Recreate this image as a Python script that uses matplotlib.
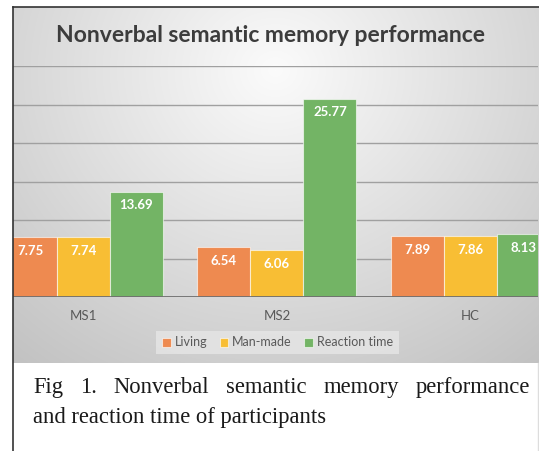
import numpy as np
import matplotlib
matplotlib.use("Agg")
import matplotlib.pyplot as plt
from matplotlib.lines import Line2D

groups = ["MS1", "MS2", "HC"]
series_names = ["Living", "Man-made", "Reaction time"]
living = [7.75, 6.54, 7.89]
man_made = [7.74, 6.06, 7.86]
reaction = [13.69, 25.77, 8.13]
colors = ["#EE8A50", "#F8BE34", "#73B465"]

title = "Nonverbal semantic memory performance"
caption1 = "Fig 1. Nonverbal semantic memory performance"
caption2 = "and reaction time of participants"

W, H = 539, 451
fig = plt.figure(figsize=(W / 100, H / 100), dpi=100)
fig.patch.set_facecolor("white")

def fx(px):
    return px / W

def fy(py):
    return 1 - py / H

# gray gradient background of the chart block
bg_left, bg_right, bg_top, bg_bot = 13, 539, 7, 363
bg = fig.add_axes([fx(bg_left), fy(bg_bot), fx(bg_right - bg_left), (bg_bot - bg_top) / H])
yy, xx = np.mgrid[bg_top:bg_bot, bg_left:bg_right]
d = np.sqrt(((xx - 275) / 360.0) ** 2 + ((yy - 70) / 330.0) ** 2)
val = np.clip(251 - 50 * d, 190, 251) / 255.0
img = np.dstack([val, val, val])
bg.imshow(img, aspect="auto", extent=[0, 1, 0, 1])
bg.axis("off")

# plot area: category centers at pixels 83.5, 277, 470.5
cat_w = 193.5
c0 = 83.5
ax_left, ax_right, ax_top, ax_bot = 13, 538, 66, 297
ax = fig.add_axes([fx(ax_left), fy(ax_bot), fx(ax_right - ax_left), (ax_bot - ax_top) / H])
ax.patch.set_alpha(0)
ax.set_xlim((ax_left - c0) / cat_w, (ax_right - c0) / cat_w)
ax.set_ylim(0, 30)

x = np.arange(len(groups))
bw = 53 / cat_w
for i, (vals, name) in enumerate(zip([living, man_made, reaction], series_names)):
    pos = x + (i - 1) * bw
    ax.bar(pos, vals, width=bw, color=colors[i], label=name,
           edgecolor=(1, 1, 1, 0.6), linewidth=0.8, zorder=3)
    for p, v in zip(pos, vals):
        ax.annotate(f"{v:.2f}", xy=(p, v), xytext=(0, -10), textcoords="offset points",
                    ha="center", va="center", color="white", fontweight="bold",
                    fontsize=9.5, family="Lato", zorder=4, annotation_clip=False)

ax.set_yticks([5, 10, 15, 20, 25, 30])
ax.grid(axis="y", color="#a0a0a0", linewidth=1.0, zorder=0)
ax.tick_params(axis="y", left=False, labelleft=False)
ax.set_xticks(x)
ax.set_xticklabels(groups, family="Lato", fontsize=9.5, color="#595959")
ax.tick_params(axis="x", length=0, pad=9)
for s in ax.spines.values():
    s.set_visible(False)
ax.axhline(0, color="#6f6f6f", linewidth=1.3, zorder=5)

# legend
leg = fig.legend(loc="center", bbox_to_anchor=(fx(277.5), fy(342.5)), ncol=3,
                 prop={"family": "Lato", "size": 9}, frameon=True, fancybox=False,
                 handlelength=0.7, handleheight=0.7, handletextpad=0.3,
                 columnspacing=1.0, borderpad=0.45)
leg.get_frame().set_facecolor("#e6e6e6")
leg.get_frame().set_edgecolor("none")
leg.get_frame().set_alpha(0.8)
for t in leg.get_texts():
    t.set_color("#595959")

fig.text(fx(270), fy(35), title, ha="center", va="center", fontsize=16.5,
         fontweight="bold", family="Lato", color="#3c3c3c")

# borders
fig.add_artist(Line2D([fx(13), fx(13)], [fy(7), 0], color="#333333", linewidth=1.2))
fig.add_artist(Line2D([fx(13), 1], [fy(7), fy(7)], color="#333333", linewidth=1.2))
fig.add_artist(Line2D([fx(538), fx(538)], [fy(363), 0], color="#dddddd", linewidth=1.0))

# caption, first line justified
cap_size = 16.3
renderer = fig.canvas.get_renderer()
words = caption1.split()
objs = [fig.text(0, fy(393), w, fontsize=cap_size, family="Liberation Serif",
                 color="#1a1a1a", va="baseline") for w in words]
widths = [o.get_window_extent(renderer).width for o in objs]
x0, x1 = 33, 530
gap = (x1 - x0 - sum(widths)) / (len(words) - 1)
cur = x0
for o, wdt in zip(objs, widths):
    o.set_x(fx(cur))
    cur += wdt + gap
fig.text(fx(33), fy(423), caption2, fontsize=cap_size, family="Liberation Serif",
         color="#1a1a1a", va="baseline")

fig.savefig("out.png", dpi=100)
